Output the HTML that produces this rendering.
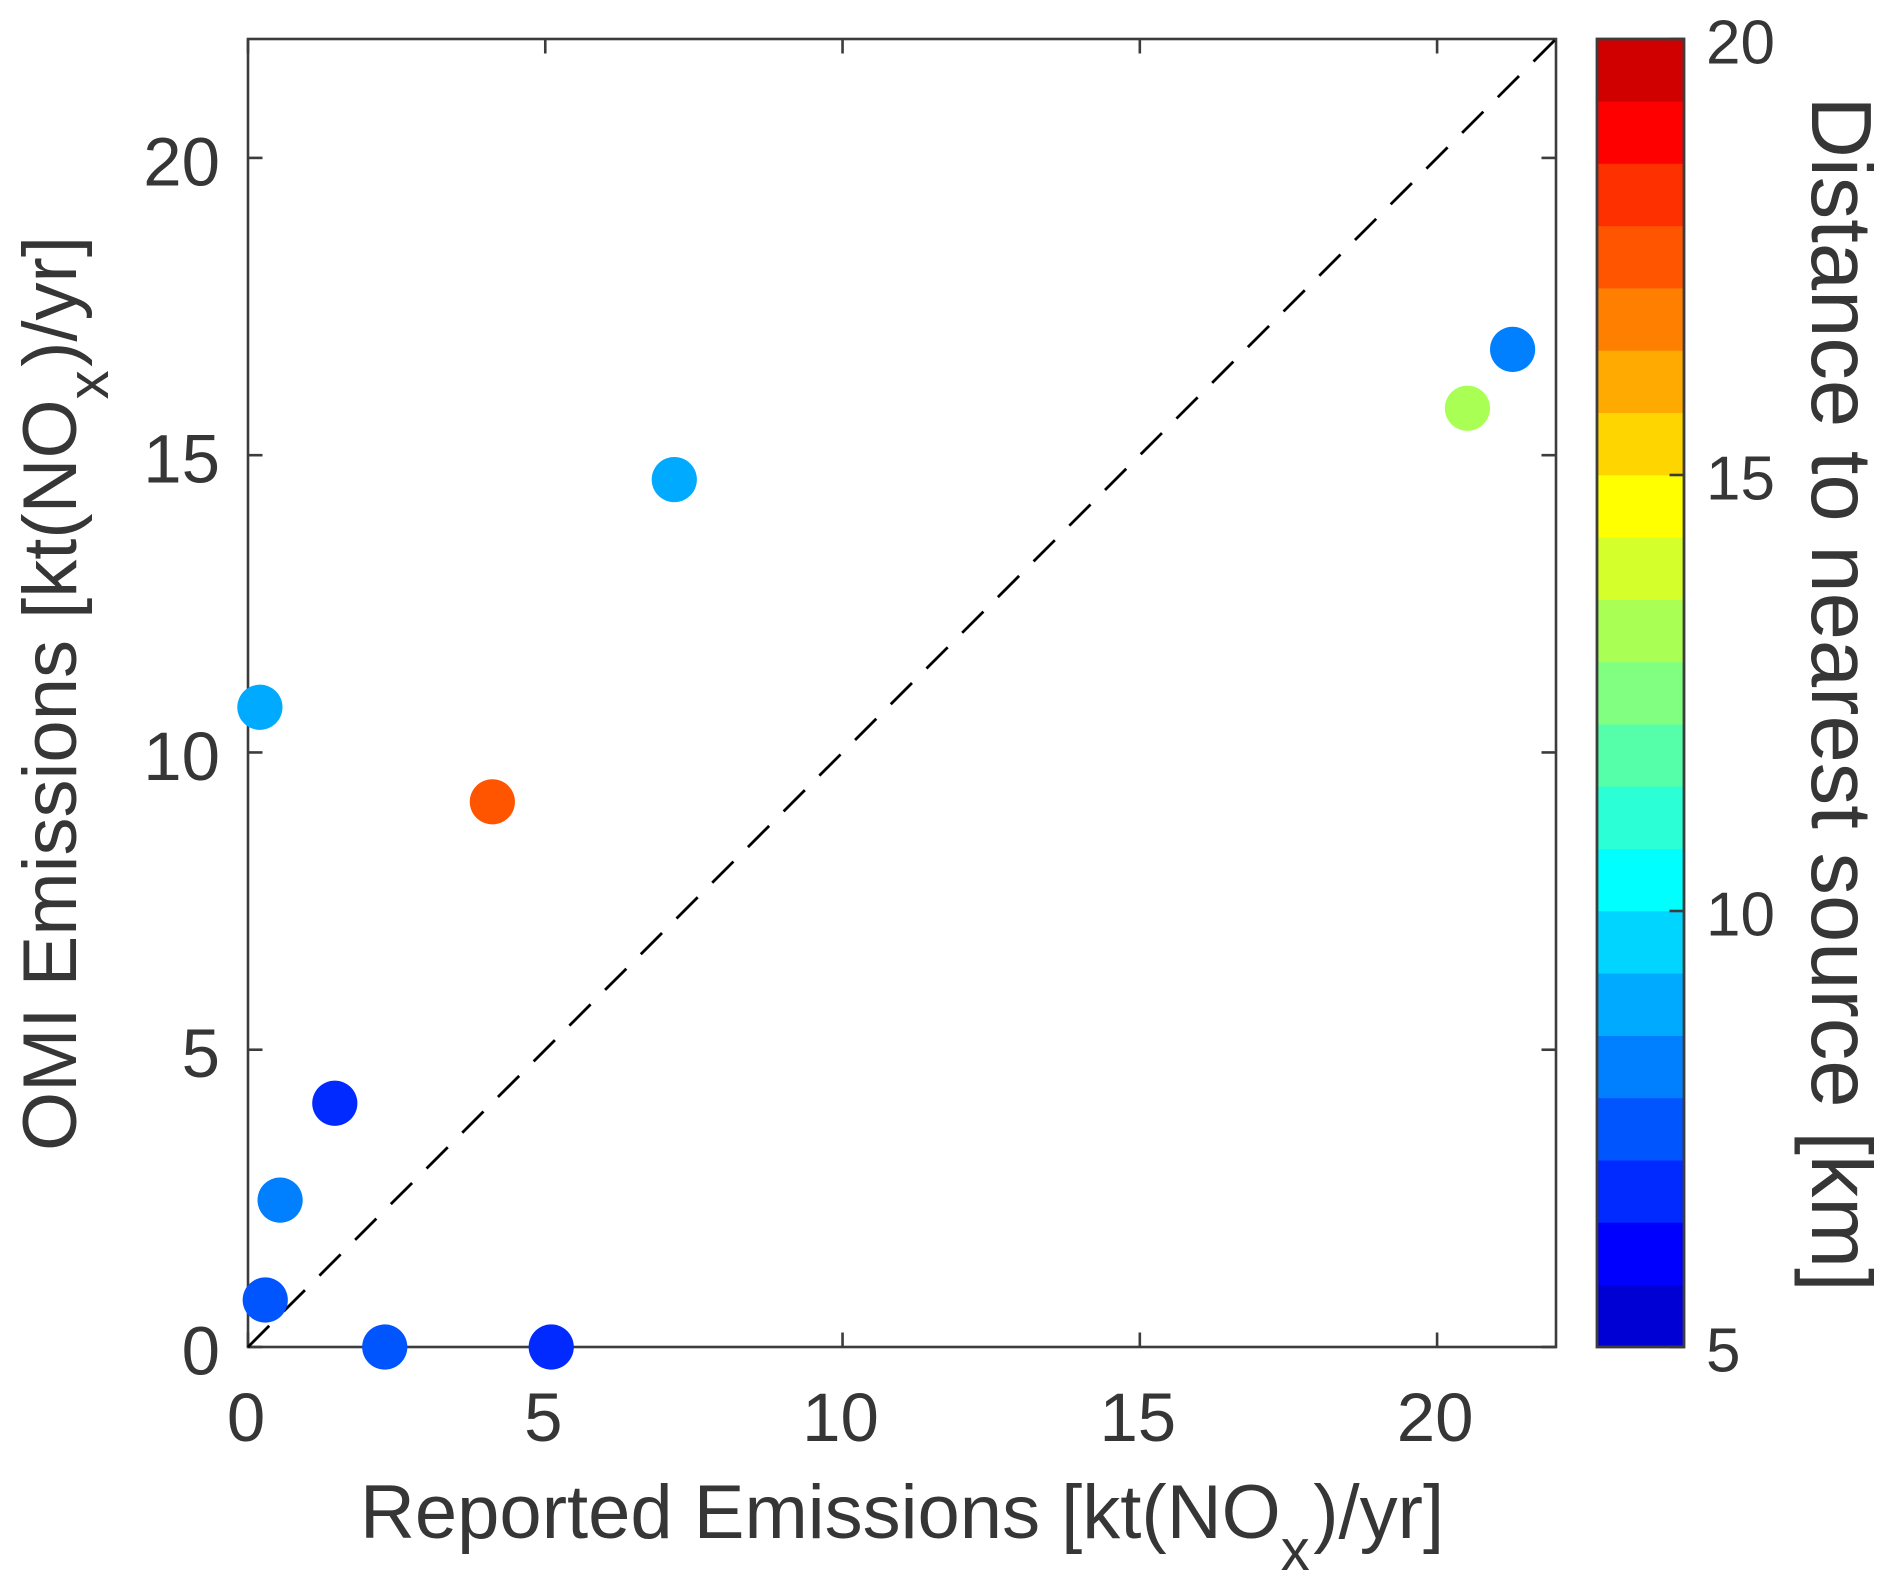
<!DOCTYPE html>
<html lang="en">
<head>
<meta charset="utf-8">
<title>OMI vs Reported Emissions</title>
<style>
html,body{margin:0;padding:0;background:#fff;width:1892px;height:1592px;overflow:hidden}
svg{display:block}
text{font-family:"Liberation Sans",Arial,sans-serif;fill:#363636}
</style>
</head>
<body>
<svg id="chart" xmlns="http://www.w3.org/2000/svg" width="1892" height="1592" viewBox="0 0 1892 1592">
<rect x="0" y="0" width="1892" height="1592" fill="#fff"/>
<g id="plot"></g>
<g id="cbar"></g>
<text x="360" y="1538" font-size="76">Reported Emissions [kt(NO<tspan font-size="58" dy="32">x</tspan><tspan dy="-32" dx="3.5">)/yr]</tspan></text>
<text transform="translate(76,1151) rotate(-90)" font-size="76">OMI Emissions [kt(NO<tspan font-size="58" dy="32">x</tspan><tspan dy="-32" dx="3.5">)/yr]</tspan></text>
<text transform="translate(1812,96.5) rotate(90)" font-size="85">Distance to nearest source [km]</text>
</svg>
<script>
var reported = [0.20, 4.11, 1.46, 0.54, 0.29, 2.30, 5.10, 21.27, 20.51, 7.17];
var omi = [10.76, 9.17, 4.10, 2.47, 0.79, 0, 0, 16.78, 15.79, 14.59];
var distance = [8.9, 17.5, 6.8, 8.2, 7.5, 7.5, 6.8, 8.2, 13.2, 8.9];
var axisTicks = [0, 5, 10, 15, 20];
var colorbarTicks = [5, 10, 15, 20];
var colormap = ['#0000d5','#0000ff','#002aff','#0055ff','#0080ff','#00aaff','#00d5ff','#00ffff','#2affd5','#55ffaa','#80ff80','#aaff55','#d5ff2a','#ffff00','#ffd500','#ffaa00','#ff8000','#ff5500','#ff3000','#ff0000','#d00000'];

var NS = 'http://www.w3.org/2000/svg';
var axisMax = 22, left = 248, right = 1556, top_ = 39, bottom = 1347;
var cLeft = 1597, cRight = 1684, cMin = 5, cMax = 20;
function sx(v) { return left + v / axisMax * (right - left); }
function sy(v) { return bottom - v / axisMax * (bottom - top_); }
function sc(v) { return bottom - (v - cMin) / (cMax - cMin) * (bottom - top_); }
function colorFor(d) {
  var i = Math.floor((d - cMin) / (cMax - cMin) * colormap.length);
  return colormap[Math.max(0, Math.min(colormap.length - 1, i))];
}
function make(parent, tag, attrs) {
  var el = document.createElementNS(NS, tag);
  for (var k in attrs) el.setAttribute(k, attrs[k]);
  parent.appendChild(el);
  return el;
}
var axisColor = '#3c3c3c', axisWidth = 2.6, tickLen = 14.5;
var plot = document.getElementById('plot');
var cbar = document.getElementById('cbar');

var frame = make(plot, 'rect', {x: left, y: top_, width: right - left, height: bottom - top_, fill: 'none', stroke: axisColor, 'stroke-width': axisWidth});



axisTicks.forEach(function (t) {
  var segs = [
    [sx(t), bottom, sx(t), bottom - tickLen], [sx(t), top_, sx(t), top_ + tickLen],
    [left, sy(t), left + tickLen, sy(t)], [right, sy(t), right - tickLen, sy(t)]
  ];
  segs.forEach(function (s) {
    var tick = make(plot, 'line', {x1: s[0], y1: s[1], x2: s[2], y2: s[3], stroke: axisColor, 'stroke-width': axisWidth});
    
    
  });
  var xl = make(plot, 'text', {x: sx(t) - 2, y: 1441, 'font-size': 69, 'text-anchor': 'middle'});
  xl.textContent = t;
  
  
  var yl = make(plot, 'text', {x: 220, y: sy(t) + 27.5, 'font-size': 69, 'text-anchor': 'end'});
  yl.textContent = t;
  
  
});

var ref = make(plot, 'line', {x1: sx(0), y1: sy(0), x2: sx(axisMax), y2: sy(axisMax), stroke: '#000', 'stroke-width': 2.8, 'stroke-dasharray': '30 20.5'});



reported.forEach(function (v, i) {
  var pt = make(plot, 'circle', {cx: sx(v), cy: sy(omi[i]), r: 22.6, fill: colorFor(distance[i])});
  
  
});

colormap.forEach(function (c, i) {
  var y1 = sc(cMin + (i + 1) / colormap.length * (cMax - cMin));
  var y0 = sc(cMin + i / colormap.length * (cMax - cMin));
  var band = make(cbar, 'rect', {x: cLeft, y: y1, width: cRight - cLeft, height: y0 - y1 + 0.3, fill: c});
  
  
});
var cframe = make(cbar, 'rect', {x: cLeft, y: top_, width: cRight - cLeft, height: bottom - top_, fill: 'none', stroke: axisColor, 'stroke-width': 2.8});


colorbarTicks.forEach(function (t) {
  var ct = make(cbar, 'line', {x1: cRight, y1: sc(t), x2: cRight - tickLen, y2: sc(t), stroke: axisColor, 'stroke-width': axisWidth});
  
  
  var cl = make(cbar, 'text', {x: 1706, y: sc(t) + 24.5, 'font-size': 62});
  cl.textContent = t;
  
  
});
</script>
</body>
</html>
